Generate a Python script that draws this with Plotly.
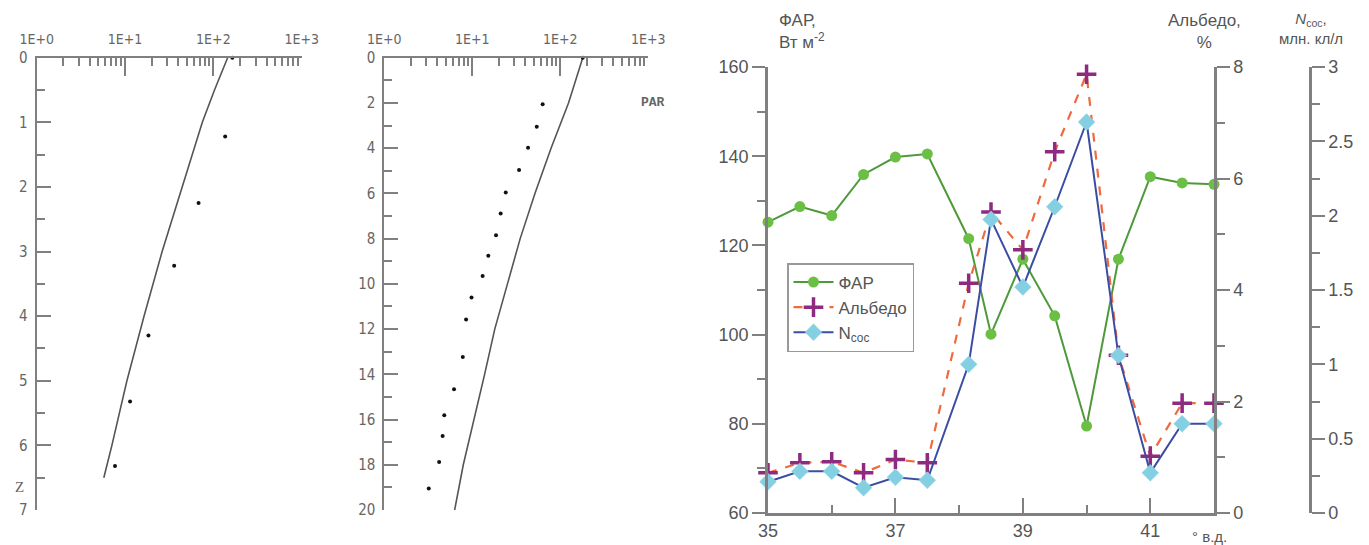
import plotly.graph_objects as go

W, H = 1369, 545
OFF = 8  # page body margin in the browser

# ---------------- data ----------------
# Profile 1 (depth, m vs PAR, log scale)
p1_line_depth = [0, 0.5, 1, 2, 3, 4, 5, 6, 6.5]
p1_line_par = [145, 103, 75, 44.2, 26.3, 16.4, 10.5, 7.1, 5.75]
p1_dot_depth = [0, 1.22, 2.25, 3.22, 4.30, 5.32, 6.32]
p1_dot_par = [164, 136, 68, 36, 18.4, 11.4, 7.7]

# Profile 2
p2_line_depth = [0, 2, 4, 6, 8, 10, 12, 14, 16, 18, 20]
p2_line_par = [180, 124, 78.5, 51.5, 35, 25, 18, 13.8, 10.5, 7.9, 6.3]
p2_dot_depth = [0, 2.06, 3.05, 3.98, 4.97, 5.96, 6.89, 7.85, 8.76, 9.65,
                10.6, 11.58, 13.23, 14.66, 15.81, 16.73, 17.88, 19.05]
p2_dot_par = [180, 63, 54, 43, 34, 24, 21, 18.6, 15.2, 13.1,
              9.8, 8.5, 7.8, 6.2, 4.8, 4.6, 4.2, 3.2]

log_tickvals = [1, 10, 100, 1000]
log_ticktext = ["1E+0", "1E+1", "1E+2", "1E+3"]
log_minor = [m * d for d in (1, 10, 100) for m in range(2, 10)]

# Right panel: longitude transect
lon = [35, 35.5, 36, 36.5, 37, 37.5, 38.15, 38.5, 39, 39.5, 40, 40.5, 41, 41.5, 42]
far = [125.2, 128.7, 126.7, 135.9, 139.8, 140.5, 121.5, 100.1, 116.9, 104.2,
       79.5, 116.9, 135.4, 134.0, 133.7]
albedo = [0.72, 0.90, 0.92, 0.72, 0.96, 0.90, 4.12, 5.40, 4.72, 6.48,
          7.87, 2.83, 1.02, 1.97, 1.97]
ncoc = [0.21, 0.28, 0.28, 0.17, 0.24, 0.22, 1.0, 1.975, 1.52, 2.06,
        2.63, 1.06, 0.27, 0.60, 0.60]

FW, FH = W - OFF, H - OFF


def fx(p):
    return (p - OFF) / FW


def fy(p):
    return 1 - (p - OFF) / FH


fig = go.Figure()

prof_line = dict(color="#555555", width=1.6)
prof_dot = dict(color="#111111", size=4)

fig.add_trace(go.Scatter(x=p1_line_par, y=p1_line_depth, mode="lines", line=prof_line,
                         xaxis="x", yaxis="y", showlegend=False, cliponaxis=False))
fig.add_trace(go.Scatter(x=p1_dot_par, y=p1_dot_depth, mode="markers", marker=prof_dot,
                         xaxis="x", yaxis="y", showlegend=False, cliponaxis=False))
fig.add_trace(go.Scatter(x=p2_line_par, y=p2_line_depth, mode="lines", line=prof_line,
                         xaxis="x2", yaxis="y2", showlegend=False, cliponaxis=False))
fig.add_trace(go.Scatter(x=p2_dot_par, y=p2_dot_depth, mode="markers", marker=prof_dot,
                         xaxis="x2", yaxis="y2", showlegend=False, cliponaxis=False))

fig.add_trace(go.Scatter(x=lon, y=far, name="ФАР", mode="lines+markers",
                         line=dict(color="#4E9A3A", width=2),
                         marker=dict(symbol="circle", size=11, color="#6CBF45"),
                         xaxis="x3", yaxis="y3", cliponaxis=False))
fig.add_trace(go.Scatter(x=lon, y=albedo, name="Альбедо", mode="lines+markers",
                         line=dict(color="#EE6A3F", width=2.2, dash="dash"),
                         marker=dict(symbol="cross-thin", size=14, color="#8E2A80",
                                     line=dict(color="#8E2A80", width=3.5)),
                         xaxis="x3", yaxis="y4", cliponaxis=False))
fig.add_trace(go.Scatter(x=lon, y=ncoc, name="N<sub>сос</sub>", mode="lines+markers",
                         line=dict(color="#3B4DA2", width=2),
                         marker=dict(symbol="diamond", size=13, color="#84D0E2",
                                     line=dict(color="#9ADAE8", width=0.5)),
                         xaxis="x3", yaxis="y5", cliponaxis=False))

prof_font = dict(family="Liberation Sans Narrow, DejaVu Sans Condensed, Arial Narrow, sans-serif",
                 size=14, color="#666666")
prof_yfont = dict(family="Liberation Sans Narrow, DejaVu Sans Condensed, Arial Narrow, sans-serif",
                  size=15, color="#666666")
axc = "#808080"

prof_x = dict(type="log", range=[0, 3], side="top", showgrid=False, zeroline=False, automargin=False,
              showline=True, linecolor=axc, linewidth=2, mirror=False,
              tickvals=log_tickvals, ticktext=log_ticktext, ticks="inside", ticklen=18,
              tickwidth=2, tickcolor=axc, tickfont=prof_font, ticklabelstandoff=6,
              minor=dict(tickvals=log_minor, ticks="inside", ticklen=8, tickwidth=1.5, tickcolor=axc,
                         showgrid=False))

right_font = dict(family="Liberation Sans, Arial, sans-serif", size=18, color="#555555")

fig.update_layout(
    width=FW, height=FH, margin=dict(l=0, r=0, t=0, b=0),
    paper_bgcolor="white", plot_bgcolor="white",
    xaxis=dict(domain=[fx(36.7), fx(301.7)], anchor="y", **prof_x),
    yaxis=dict(domain=[fy(510), fy(57.7)], anchor="x", range=[7, 0], showgrid=False, zeroline=False,
               automargin=False,
               showline=True, linecolor=axc, linewidth=2, tickvals=list(range(0, 8)),
               ticks="inside", ticklen=14, tickwidth=2, tickcolor=axc, tickfont=prof_yfont,
               ticklabelstandoff=4,
               minor=dict(tickvals=[0.5 + i for i in range(7)], ticks="inside", ticklen=8,
                          tickwidth=1.5, tickcolor=axc, showgrid=False)),
    xaxis2=dict(domain=[fx(384.3), fx(648.3)], anchor="y2", **prof_x),
    yaxis2=dict(domain=[fy(510), fy(57.7)], anchor="x2", range=[20, 0], showgrid=False, zeroline=False,
                automargin=False,
                showline=True, linecolor=axc, linewidth=2, tickvals=list(range(0, 21, 2)),
                ticks="inside", ticklen=14, tickwidth=2, tickcolor=axc, tickfont=prof_yfont,
                ticklabelstandoff=4,
                minor=dict(tickvals=list(range(1, 20, 2)), ticks="inside", ticklen=8,
                           tickwidth=1.5, tickcolor=axc, showgrid=False)),
    xaxis3=dict(domain=[fx(768), fx(1214)], anchor="y3", range=[35, 42], showgrid=False, zeroline=False,
                automargin=False,
                showline=True, linecolor=axc, linewidth=2.5, tickvals=[35, 37, 39, 41],
                ticks="inside", ticklen=15, tickwidth=2, tickcolor=axc, tickfont=right_font,
                minor=dict(tickvals=[36, 38, 40], ticks="inside", ticklen=8, tickwidth=2,
                           tickcolor=axc, showgrid=False)),
    yaxis3=dict(domain=[fy(513), fy(67)], anchor="x3", range=[60, 160], showgrid=False, zeroline=False,
                automargin=False,
                showline=True, linecolor=axc, linewidth=2.5, tickvals=[60, 80, 100, 120, 140, 160],
                ticks="outside", ticklen=13, tickwidth=2, tickcolor=axc, tickfont=right_font,
                minor=dict(tickvals=[70, 90, 110, 130, 150], ticks="outside", ticklen=8, tickwidth=2,
                           tickcolor=axc, showgrid=False)),
    yaxis4=dict(overlaying="y3", anchor="x3", side="right", range=[0, 8], showgrid=False, zeroline=False,
                automargin=False,
                showline=True, linecolor=axc, linewidth=2.5, tickvals=[0, 2, 4, 6, 8],
                ticks="outside", ticklen=13, tickwidth=2, tickcolor=axc, tickfont=right_font,
                minor=dict(tickvals=[1, 3, 5, 7], ticks="outside", ticklen=8, tickwidth=2,
                           tickcolor=axc, showgrid=False)),
    yaxis5=dict(overlaying="y3", anchor="free", position=fx(1310), side="right", range=[0, 3],
                showgrid=False, zeroline=False, automargin=False,
                showline=True, linecolor=axc, linewidth=2.5, tickvals=[0, 0.5, 1, 1.5, 2, 2.5, 3],
                ticktext=["0", "0.5", "1", "1.5", "2", "2.5", "3"],
                ticks="outside", ticklen=13, tickwidth=2, tickcolor=axc, tickfont=right_font,
                minor=dict(tickvals=[0.25, 0.75, 1.25, 1.75, 2.25, 2.75], ticks="outside", ticklen=8,
                           tickwidth=2, tickcolor=axc, showgrid=False)),
    legend=dict(x=fx(787), y=fy(263), xanchor="left", yanchor="top",
                bgcolor="white", bordercolor="#999999", borderwidth=1.5,
                font=dict(family="Liberation Sans, Arial, sans-serif", size=17, color="#555555"),
                tracegroupgap=0, itemwidth=40),
)

ann_font = dict(family="Liberation Sans, Arial, sans-serif", size=17, color="#555555")
annotations = [
    dict(text="ФАР,<br>Вт м<sup>-2</sup>", x=fx(777), y=fy(9), xanchor="left", yanchor="top",
         align="left", font=ann_font),
    dict(text="Альбедо,<br>%", x=fx(1204), y=fy(9), xanchor="center", yanchor="top",
         align="center", font=ann_font),
    dict(text="<i>N</i><sub>сос</sub>,<br>млн. кл/л", x=fx(1311), y=fy(8), xanchor="center", yanchor="top",
         align="center", font=dict(family="Liberation Sans, Arial, sans-serif", size=15, color="#555555")),
    dict(text="° в.д.", x=fx(1209), y=fy(536), xanchor="center", yanchor="middle",
         font=dict(family="Liberation Sans, Arial, sans-serif", size=15, color="#555555")),
    dict(text="Z", x=fx(19), y=fy(487), xanchor="center", yanchor="middle",
         font=dict(family="Liberation Serif, serif", size=15, color="#666666")),
    dict(text="<b>PAR</b>", x=fx(653), y=fy(102), xanchor="center", yanchor="middle",
         font=dict(family="Liberation Mono, Courier New, monospace", size=13, color="#666666")),
]
for a in annotations:
    a.update(xref="paper", yref="paper", showarrow=False)
fig.update_layout(annotations=annotations)

fig.write_html("out.html")
